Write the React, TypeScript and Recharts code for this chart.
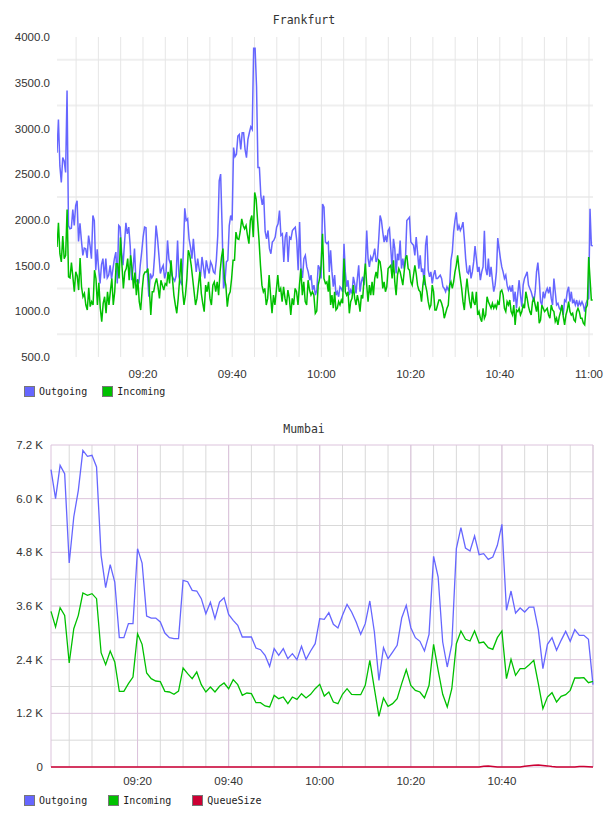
import React from 'react';
import {LineChart, Line, XAxis, YAxis, CartesianGrid} from 'recharts';

// Frankfurt, first hour (09:00 - 10:01) and second hour (10:01 - 11:00)
const frankOutFirst = [
    2735, 3097, 2590, 2410, 2681, 2645, 2518, 3416, 1938, 1902, 1909, 2112, 1938, 2156, 2210, 1764, 1963, 1775, 1612, 1692,
    1685, 1583, 1829, 1721, 1576, 2047, 1993, 1449, 1677, 1467, 1304, 1511, 1576, 1359, 1576, 1366, 1395, 1503, 1351, 1467,
    1576, 1648, 1304, 1938, 1920, 1648, 1503, 1739, 1967, 1847, 1920, 1714, 1340, 1474, 1685, 1322, 1340, 1304, 1503, 1648,
    1811, 1920, 1913, 1413, 1159, 1413, 1366, 1395, 1612, 1938, 1800, 1612, 1413, 1467, 1503, 1359, 1431, 1775, 1569, 1521,
    1395, 1359, 1330, 1388, 1775, 1377, 1322, 1286, 1648, 2127, 1993, 2011, 1793, 1703, 1576, 1793, 1594, 1431, 1576, 1467,
    1377, 1594, 1485, 1359, 1558, 1474, 1413, 1540, 1503, 1431, 1413, 1558, 1829, 2427, 2500, 1938, 1250, 1322, 1540, 1558,
    1938, 2047, 1993, 2790, 2692, 2717, 2916, 2934, 2771, 2953, 2953, 2771, 2681, 2880, 2953, 3018, 2989, 3876, 3876, 3460,
    2572, 2572, 2264, 2163, 2264, 1873, 1793, 1884, 1685, 1630, 1757, 1775, 1811, 1920, 1956, 2101, 1829, 1847, 1540, 1811,
    1866, 1540, 1811, 1793, 1884, 1902, 1920, 1775, 1449, 1975, 1467, 1366, 1576, 1612, 1485, 1431, 1340, 1395, 1232, 1286,
    1177, 1232, 1503, 1467, 1359, 2174, 2138, 1757, 1739, 1757,
];
const frankOutSecond = [
    1431, 1667, 1431, 1268, 1395, 1177, 1214, 1159, 1268, 1250, 1214, 1739, 1431, 1268, 1340, 1177, 1232, 1196, 1377, 1304,
    1196, 1359, 1503, 1214, 1322, 1377, 1286, 1503, 1884, 1576, 1485, 1594, 1558, 1612, 1685, 1540, 1576, 1793, 2047, 1993,
    1866, 1757, 1829, 1757, 1884, 1909, 1685, 1467, 1793, 1685, 1413, 1630, 1558, 1775, 1467, 1576, 1467, 1576, 1993, 2011,
    2029, 1757, 1739, 1721, 1612, 1811, 1648, 1467, 1612, 1431, 1467, 1286, 1721, 1829, 1449, 1377, 1431, 1304, 1395, 1449,
    1359, 1359, 1377, 1395, 1359, 1268, 1250, 1214, 1268, 1232, 1268, 1558, 1648, 1866, 1993, 2083, 1884, 1938, 1884, 1920,
    1975, 1793, 1576, 1431, 1413, 1503, 1359, 1431, 1540, 1714, 1576, 1431, 1485, 1340, 1431, 1485, 1880, 1467, 1395, 1576,
    1377, 1485, 1340, 1214, 1286, 1431, 1800, 1685, 1576, 1485, 1431, 1359, 1395, 1286, 1232, 1268, 1214, 1286, 1105, 1214,
    1033, 1196, 1340, 1177, 1051, 1286, 1359, 1395, 1431, 1286, 1250, 1214, 1159, 1105, 1214, 1431, 1532, 1359, 1105, 1069,
    1214, 1141, 1214, 1250, 1196, 1268, 1141, 1069, 1359, 1214, 1069, 1087, 1033, 1014, 1069, 960, 1123, 1105, 1214, 1268,
    1105, 1214, 1087, 1123, 1069, 1123, 1051, 1105, 1069, 1105, 1069, 996, 1087, 1123, 1141, 2120, 1721, 1714,
];
const frankInFirst = [
    1703, 1967, 1630, 1540, 1822, 1576, 1612, 2112, 1377, 1366, 1532, 1377, 1214, 1431, 1388, 1232, 1583, 1268, 1159, 1196,
    1069, 1014, 1257, 1051, 1105, 1069, 1449, 1359, 1069, 1311, 1033, 887, 1087, 1159, 978, 1214, 1069, 1221, 1359, 1069,
    1214, 1521, 1521, 1359, 1808, 1503, 1250, 1431, 1467, 1576, 1340, 1612, 1467, 1250, 1424, 1177, 1351, 1105, 1014, 1232,
    1395, 1431, 1431, 1467, 1232, 960, 1214, 1214, 1304, 1359, 1268, 1141, 1340, 1286, 1232, 1304, 1286, 1431, 1304, 1558,
    1359, 1177, 1069, 978, 1141, 1359, 1576, 1232, 1069, 1177, 1359, 1667, 1612, 1503, 1359, 1214, 1069, 1141, 1286, 1431,
    1196, 1087, 996, 1286, 1214, 1322, 1141, 1069, 1286, 1322, 1214, 1322, 1177, 1431, 1594, 1685, 1359, 1286, 1051, 1177,
    1214, 1359, 1558, 1558, 1866, 1793, 1786, 1873, 2011, 1938, 1902, 1938, 1829, 1739, 1993, 2047, 1811, 2300, 2228, 1993,
    1775, 1503, 1286, 1214, 1250, 1069, 1141, 1395, 1177, 978, 1177, 1069, 1232, 1395, 1214, 1250, 1105, 1268, 1141, 1069,
    1232, 1141, 960, 1141, 1069, 1250, 1214, 1069, 1286, 1467, 1177, 1322, 1105, 1069, 1340, 1232, 1177, 1214, 1177, 978,
    1004, 1286, 1359, 1503, 1848, 1359, 1304, 1322, 1214,
];
const frankInSecond = [
    1395, 1069, 1177, 1033, 1214, 1014, 1033, 1105, 1069, 1123, 1087, 1576, 1214, 1177, 1214, 978, 1105, 1141, 1286, 1141,
    1069, 1177, 1105, 996, 1177, 1141, 1359, 1521, 1286, 1105, 1286, 1177, 1322, 1177, 1359, 1431, 1359, 1558, 1540, 1431,
    1250, 1322, 1214, 1268, 1467, 1485, 1503, 1359, 1558, 1322, 1177, 1395, 1467, 1431, 1359, 1286, 1431, 1576, 1612, 1467,
    1449, 1322, 1286, 1395, 1503, 1413, 1286, 1232, 1214, 1105, 1286, 1395, 1286, 1214, 1105, 1033, 1069, 1286, 1214, 1014,
    1014, 1069, 1123, 1123, 1087, 1033, 924, 978, 1033, 1069, 1286, 1322, 1250, 1322, 1431, 1503, 1612, 1467, 1359, 1250,
    1105, 1014, 1214, 1359, 1214, 1105, 1033, 1214, 1105, 1069, 1214, 960, 996, 924, 887, 1033, 924, 960, 1159, 1105,
    1069, 1033, 1087, 1033, 1069, 1033, 1105, 1069, 1214, 1232, 1177, 1033, 996, 1105, 1069, 1123, 996, 960, 1069, 851,
    1014, 996, 1033, 960, 996, 1069, 1033, 1214, 1141, 1051, 996, 960, 1105, 1141, 1069, 996, 1105, 869, 905, 1069,
    1033, 996, 1014, 1033, 960, 924, 1069, 1014, 996, 887, 924, 851, 942, 996, 1069, 942, 851, 960, 1014, 1105,
    996, 960, 978, 905, 887, 996, 1033, 996, 924, 924, 869, 851, 1033, 1069, 1594, 1359, 1123, 1123,
];
// minutes after 09:00 covered by each half
const frankFirstSpan = [0.72, 61.55];
const frankSecondSpan = [61.77, 120.83];

// Mumbai, one sample per minute, 09:01 .. 11:00
const mumbaiOut = [
    6648, 6000, 6745, 6559, 4561, 5590, 6186, 7080, 6946, 6969, 6708, 4733, 4010, 4524, 4136, 2892, 2892, 3205, 3205, 4882,
    4561, 3376, 3331, 3331, 3242, 2996, 2892, 2869, 2869, 4174, 4144, 3950, 3935, 3764, 3428, 3682, 3317, 3689, 3786, 3413,
    3279, 3168, 2907, 2907, 2907, 2661, 2623, 2497, 2251, 2646, 2497, 2646, 2422, 2534, 2400, 2698, 2407, 2594, 2758, 3317,
    3302, 3451, 3190, 3108, 3391, 3637, 3466, 3242, 2966, 3205, 3712, 3018, 1938, 2668, 2422, 2571, 2720, 3331, 3615, 3115,
    2892, 2810, 2594, 2966, 4710, 4248, 2795, 2236, 2743, 4882, 5351, 4897, 4830, 5165, 4748, 4770, 4643, 4695, 4956, 5426,
    3503, 3935, 3443, 3555, 3466, 3577, 3577, 3071, 2199, 2743, 2892, 2609, 2832, 3033, 2810, 3071, 2944, 2944, 2855, 1841,
];
const mumbaiIn = [
    3481, 3130, 3563, 3391, 2325, 3093, 3391, 3890, 3838, 3876, 3764, 2556, 2288, 2594, 2348, 1692, 1692, 1863, 2012, 2981,
    2743, 2102, 1975, 1923, 1908, 1692, 1677, 1625, 1699, 2214, 2087, 1975, 2124, 1841, 1677, 1789, 1677, 1804, 1878, 1751,
    1953, 1841, 1602, 1655, 1640, 1438, 1438, 1364, 1342, 1602, 1528, 1565, 1416, 1565, 1513, 1640, 1543, 1625, 1751, 1848,
    1587, 1677, 1453, 1416, 1625, 1751, 1625, 1617, 1617, 1826, 2385, 1751, 1133, 1543, 1356, 1416, 1528, 1863, 2176, 1826,
    1714, 1677, 1543, 1826, 2743, 2161, 1625, 1342, 1751, 2758, 3041, 2855, 2817, 3041, 2773, 2795, 2668, 2631, 2892, 3041,
    1975, 2407, 2050, 2199, 2199, 2288, 2385, 1863, 1304, 1565, 1662, 1453, 1580, 1617, 1714, 1990, 1990, 1997, 1886, 1916,
];
const mumbaiQueue = [
    0, 0, 0, 0, 0, 0, 0, 0, 0, 0, 0, 0, 0, 0, 0, 0, 0, 0, 0, 0,
    0, 0, 0, 0, 0, 0, 0, 0, 0, 0, 0, 0, 0, 0, 0, 0, 0, 0, 0, 0,
    0, 0, 0, 0, 0, 0, 0, 0, 0, 0, 0, 0, 0, 0, 0, 0, 0, 0, 0, 0,
    0, 0, 0, 0, 0, 0, 0, 0, 0, 0, 0, 0, 0, 0, 0, 0, 0, 0, 0, 0,
    0, 0, 0, 0, 0, 0, 0, 0, 0, 0, 0, 0, 0, 0, 0, 15, 20, 10, 0, 0,
    0, 0, 0, 0, 15, 30, 40, 45, 35, 25, 10, 0, 0, 0, 0, 0, 10, 10, 5, 0,
];

const frankYTicks = [500, 1000, 1500, 2000, 2500, 3000, 3500, 4000];
const frankHLines = [750, 1250, 1750, 2250, 2750, 3250, 3750];
const frankXTicks = [20, 40, 60, 80, 100, 120];
const fiveMin = [5, 10, 15, 20, 25, 30, 35, 40, 45, 50, 55, 60, 65, 70, 75, 80, 85, 90, 95, 100, 105, 110, 115, 120];

const mumbaiYTicks = [0, 1200, 2400, 3600, 4800, 6000, 7200];
const mumbaiYMinor = [600, 1800, 3000, 4200, 5400, 6600];
const mumbaiXTicks = [20, 40, 60, 80, 100];
const mumbaiXMajor = [1, 20, 40, 60, 80, 100, 120];

const BLUE = '#6666ff';
const GREEN = '#00c000';
const RED = '#cc0033';

const spread = (values: number[], span: number[]) =>
    values.map((v, i) => ({t: span[0] + (span[1] - span[0]) * i / (values.length - 1), v}));

const frankOut = [...spread(frankOutFirst, frankFirstSpan), ...spread(frankOutSecond, frankSecondSpan)];
const frankIn = [...spread(frankInFirst, frankFirstSpan), ...spread(frankInSecond, frankSecondSpan)];

const mumbaiData = mumbaiOut.map((v, i) => ({
    t: i + 1,
    out: v,
    inc: mumbaiIn[i],
    queue: mumbaiQueue[i],
}));

const fmtTime = (t: number) => {
    const m = Math.round(t);
    const h = 9 + Math.floor(m / 60);
    return `${String(h).padStart(2, '0')}:${String(m % 60).padStart(2, '0')}`;
};
const fmtK = (v: number) => (v === 0 ? '0' : `${(v / 1000).toFixed(1)} K`);

const tickStyle = {fill: '#333', fontSize: 11.5, fontFamily: '"Liberation Sans", Arial, sans-serif'};
const mono = '"DejaVu Sans Mono", monospace';

const LegendRow: React.FC<{top: number; gap: number; items: {name: string; color: string}[]}> = ({top, gap, items}) => (
    <div style={{position: 'absolute', left: 24, top, display: 'flex', alignItems: 'center', height: 11}}>
        {items.map((it) => (
            <div key={it.name} style={{display: 'flex', alignItems: 'center', marginRight: gap}}>
                <div style={{width: 9, height: 9, background: it.color, border: '1px solid #777'}}/>
                <span style={{marginLeft: 4, fontFamily: mono, fontSize: 10, color: '#222', lineHeight: '11px'}}>{it.name}</span>
            </div>
        ))}
    </div>
);

const Title: React.FC<{top: number; text: string}> = ({top, text}) => (
    <div style={{position: 'absolute', left: 0, width: 608, top, textAlign: 'center', fontFamily: mono,
        fontSize: 11.5, lineHeight: '14px', color: '#333'}}>{text}</div>
);

const App: React.FC = () => (
    <div style={{position: 'absolute', left: 0, top: 0, width: 608, height: 816, background: '#fff', overflow: 'hidden'}}>
        <Title top={13} text="Frankfurt"/>
        <div style={{position: 'absolute', left: 0, top: 0}}>
            <LineChart width={608} height={387} margin={{top: 37, right: 15, bottom: 0, left: 0}}>
                <CartesianGrid vertical={false} horizontalValues={frankHLines} stroke="#efefef" strokeWidth={2}/>
                <CartesianGrid horizontal={false} verticalValues={fiveMin} stroke="#e6e6e6"/>
                <XAxis type="number" dataKey="t" domain={[0.72, 120.9]} allowDataOverflow ticks={frankXTicks}
                       interval={0} tickFormatter={fmtTime} axisLine={false} tickLine={false} tickMargin={7}
                       tick={tickStyle} height={30}/>
                <YAxis type="number" domain={[500, 4000]} allowDataOverflow ticks={frankYTicks} interval={0}
                       tickFormatter={(v: number) => v.toFixed(1)} axisLine={false} tickLine={false}
                       tickMargin={1} tick={tickStyle} width={57}/>
                <Line data={frankOut} dataKey="v" name="Outgoing" stroke={BLUE} strokeWidth={1.5} dot={false}
                      type="linear" isAnimationActive={false}/>
                <Line data={frankIn} dataKey="v" name="Incoming" stroke={GREEN} strokeWidth={1.5} dot={false}
                      type="linear" isAnimationActive={false}/>
            </LineChart>
        </div>
        <LegendRow top={386} gap={15} items={[{name: 'Outgoing', color: BLUE}, {name: 'Incoming', color: GREEN}]}/>

        <Title top={422} text="Mumbai"/>
        <div style={{position: 'absolute', left: 0, top: 400}}>
            <LineChart data={mumbaiData} width={608} height={397} margin={{top: 45, right: 15, bottom: 0, left: 0}}>
                <CartesianGrid vertical={false} horizontalValues={mumbaiYMinor} stroke="#d9d9d9"/>
                <CartesianGrid horizontal={false} verticalValues={fiveMin} stroke="#d9d9d9"/>
                <CartesianGrid vertical={false} horizontalValues={mumbaiYTicks} stroke="#dcc3dc"/>
                <CartesianGrid horizontal={false} verticalValues={mumbaiXMajor} stroke="#dcc3dc"/>
                <XAxis type="number" dataKey="t" domain={[1, 120]} ticks={mumbaiXTicks} interval={0}
                       tickFormatter={fmtTime} axisLine={false} tickLine={false} tickMargin={4}
                       tick={tickStyle} height={30}/>
                <YAxis type="number" domain={[0, 7200]} ticks={mumbaiYTicks} interval={0} tickFormatter={fmtK}
                       axisLine={false} tickLine={false} tickMargin={2} tick={tickStyle} width={51}/>
                <Line dataKey="out" name="Outgoing" stroke={BLUE} strokeWidth={1.3} dot={false} type="linear"
                      isAnimationActive={false}/>
                <Line dataKey="inc" name="Incoming" stroke={GREEN} strokeWidth={1.3} dot={false} type="linear"
                      isAnimationActive={false}/>
                <Line dataKey="queue" name="QueueSize" stroke={RED} strokeWidth={1.5} dot={false} type="linear"
                      isAnimationActive={false}/>
            </LineChart>
        </div>
        <LegendRow top={795} gap={21} items={[
            {name: 'Outgoing', color: BLUE},
            {name: 'Incoming', color: GREEN},
            {name: 'QueueSize', color: RED},
        ]}/>
    </div>
);

export default App;
